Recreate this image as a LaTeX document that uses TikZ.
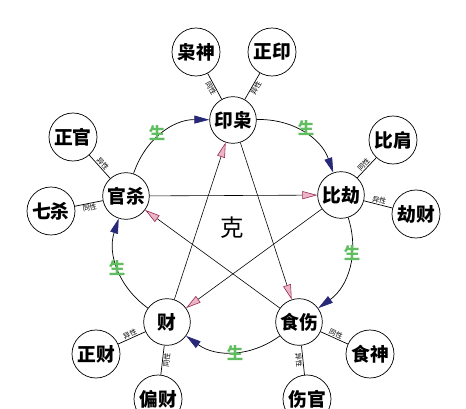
\documentclass[tikz,border=0pt]{standalone}
\usepackage{fontspec}
\newfontfamily\cjk{Noto Sans CJK SC}
\usepackage{tikz}
\usetikzlibrary{arrows.meta}
\definecolor{shenggreen}{RGB}{96,190,96}
\definecolor{kepink}{RGB}{236,180,200}
\definecolor{keline}{RGB}{150,40,80}
\definecolor{shengnavy}{RGB}{40,40,120}

\begin{document}
\begin{tikzpicture}[
  x=0.03cm, y=0.03cm,
  main/.style={circle, draw, line width=0.6pt, minimum size=1.4cm, inner sep=0pt,
               font=\cjk\bfseries\fontsize{16}{18}\selectfont},
  outer/.style={main, minimum size=1.44cm},
  spoke/.style={line width=0.6pt},
  tag/.style={font=\cjk\fontsize{6}{7}\selectfont, sloped, inner sep=0.6pt},
  sheng/.style={line width=0.6pt, bend left=36,
                -{Triangle[length=0.45cm, width=0.24cm, fill=shengnavy, color=shengnavy]}},
  ke/.style={line width=0.5pt,
             -{Triangle[length=0.45cm, width=0.24cm, fill=kepink, color=keline]}},
  shenglabel/.style={text=shenggreen, font=\cjk\bfseries\fontsize{14}{16}\selectfont}
]
  \useasboundingbox (0,0) rectangle (466,408);

  % five main groups
  \node[main] (yinxiao)  at (233,288) {印枭};
  \node[main] (bijie)    at (341,213) {比劫};
  \node[main] (shishang) at (299,86)  {食伤};
  \node[main] (cai)      at (167,86)  {财};
  \node[main] (guansha)  at (126,212) {官杀};

  % ten gods
  \node[outer] (xiaoshen)  at (196,356) {枭神};
  \node[outer] (zhengyin)  at (272,356) {正印};
  \node[outer] (zhengguan) at (73,271)  {正官};
  \node[outer] (qisha)     at (51,197)  {七杀};
  \node[outer] (bijian)    at (393,268) {比肩};
  \node[outer] (jiecai)    at (416,194) {劫财};
  \node[outer] (zhengcai)  at (96,54)   {正财};
  \node[outer] (piancai)   at (158,9)   {偏财};
  \node[outer] (shishen)   at (370,54)  {食神};
  \node[outer] (shangguan) at (307,9)   {伤官};

  \draw[spoke] (yinxiao) -- node[tag, below] {同性} (xiaoshen);
  \draw[spoke] (yinxiao) -- node[tag, below] {异性} (zhengyin);
  \draw[spoke] (guansha) -- node[tag, above] {异性} (zhengguan);
  \draw[spoke] (guansha) -- node[tag, below] {同性} (qisha);
  \draw[spoke] (bijie) -- node[tag, above] {同性} (bijian);
  \draw[spoke] (bijie) -- node[tag, above] {异性} (jiecai);
  \draw[spoke] (cai) -- node[tag, above] {异性} (zhengcai);
  \draw[spoke] (cai) -- node[tag, below] {同性} (piancai);
  \draw[spoke] (shishang) -- node[tag, above] {同性} (shishen);
  \draw[spoke] (shishang) -- node[tag, below] {异性} (shangguan);

  % sheng cycle
  \draw[sheng] (guansha) to (yinxiao);
  \draw[sheng] (yinxiao) to (bijie);
  \draw[sheng] (bijie) to (shishang);
  \draw[sheng] (shishang) to (cai);
  \draw[sheng] (cai) to (guansha);

  \node[shenglabel] (s1) at (157,275) {生};
  \node[shenglabel] (s2) at (306,280) {生};
  \node[shenglabel] (s3) at (352,155) {生};
  \node[shenglabel] (s4) at (235,55)  {生};
  \node[shenglabel] (s5) at (117,140) {生};

  % ke star
  \draw[ke] (yinxiao) -- (shishang);
  \draw[ke] (shishang) -- (guansha);
  \draw[ke] (guansha) -- (bijie);
  \draw[ke] (bijie) -- (cai);
  \draw[ke] (cai) -- (yinxiao);

  \node[font=\cjk\fontsize{20}{22}\selectfont] (ke) at (232,180) {克};
\end{tikzpicture}
\end{document}
